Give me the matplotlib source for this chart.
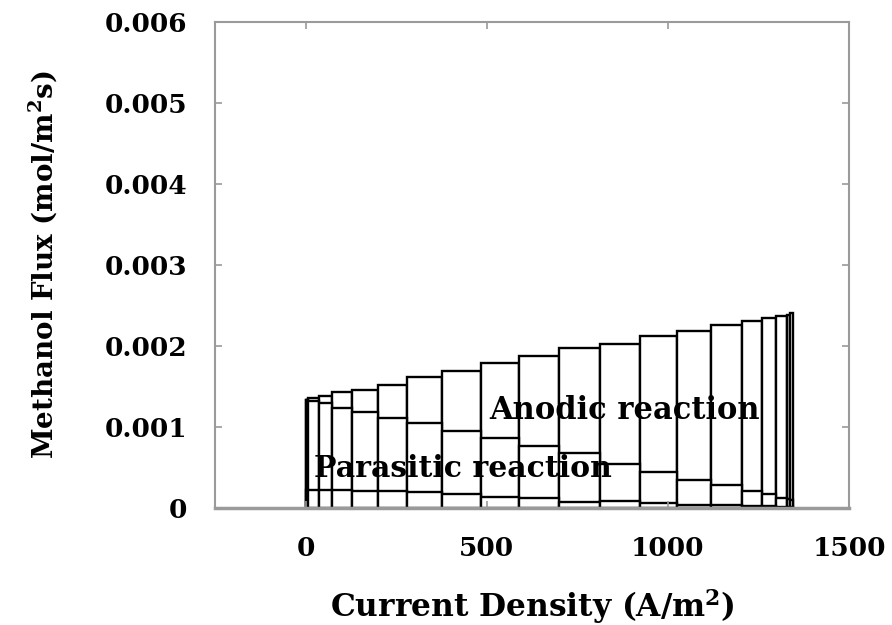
import matplotlib.pyplot as plt
import numpy as np

# bar edges along current density (A/m2), one more edge than bars
edges = [0, 3, 8, 36, 72, 127, 199, 280, 376, 484, 590, 700, 813, 924,
         1026, 1120, 1203, 1260, 1298, 1328, 1336, 1346]

# outer outline (total methanol flux)
total = [0.00134, 0.00134, 0.00136, 0.00138, 0.00143, 0.00146, 0.00152,
         0.00162, 0.00169, 0.00179, 0.00188, 0.00197, 0.00203, 0.00213,
         0.00219, 0.00226, 0.00231, 0.00235, 0.00237, 0.00238, 0.00241]

# middle boundary
middle = [0.00134, 0.00133, 0.00132, 0.00130, 0.00124, 0.00118, 0.00111,
          0.00105, 0.00095, 0.00087, 0.00077, 0.00068, 0.00055, 0.00045,
          0.00035, 0.00028, 0.00021, 0.00017, 0.00013, 0.00011, 0.00010]

# lowest boundary
lower = [0.00022, 0.00022, 0.00022, 0.00022, 0.00022, 0.00021, 0.00021,
         0.00020, 0.00018, 0.00014, 0.00012, 0.00007, 0.00009, 0.00006,
         0.00004, 0.00004, 0.00003, 0.00003, 0.00002, 0.00002, 0.00001]

xticks = [0, 500, 1000, 1500]
yticks = [0, 0.001, 0.002, 0.003, 0.004, 0.005, 0.006]
ytick_labels = ['0', '0.001', '0.002', '0.003', '0.004', '0.005', '0.006']

plt.rcParams['font.family'] = ['DejaVu Serif']
plt.rcParams['font.weight'] = 'bold'
plt.rcParams['mathtext.fontset'] = 'custom'
plt.rcParams['mathtext.rm'] = 'DejaVu Serif:bold'

fig = plt.figure(figsize=(8.92, 6.25), dpi=100)
ax = fig.add_axes([0.241, 0.187, 0.711, 0.778])

left = np.array(edges[:-1])
width = np.diff(edges)
for h in (total, middle, lower):
    ax.bar(left, h, width=width, align='edge', facecolor='white',
           edgecolor='black', linewidth=1.7)

ax.set_xlim(-250, 1500)
ax.set_ylim(0, 0.006)
ax.set_xticks(xticks)
ax.set_xticklabels([str(t) for t in xticks])
ax.set_yticks(yticks)
ax.set_yticklabels(ytick_labels)

for s in ax.spines.values():
    s.set_color('#9a9a9a')
    s.set_linewidth(1.5)
ax.spines['bottom'].set_linewidth(2.5)
ax.tick_params(direction='in', length=5, color='#9a9a9a', width=1.2,
               right=True, top=True, labelsize=19, pad=20)
ax.tick_params(axis='x', pad=20)

ax.text(22, 0.00049, 'Parasitic reaction', fontsize=21.5, fontweight='bold',
        va='center', ha='left')
ax.text(506, 0.00121, 'Anodic reaction', fontsize=22, fontweight='bold',
        va='center', ha='left')

ax.set_xlabel('Current Density (A/m$^2$)', fontsize=22.5, fontweight='bold',
              labelpad=19)
ax.set_ylabel('Methanol Flux (mol/m$^2$s)', fontsize=20, fontweight='bold',
              labelpad=32)

fig.savefig('out.png', dpi=100)
